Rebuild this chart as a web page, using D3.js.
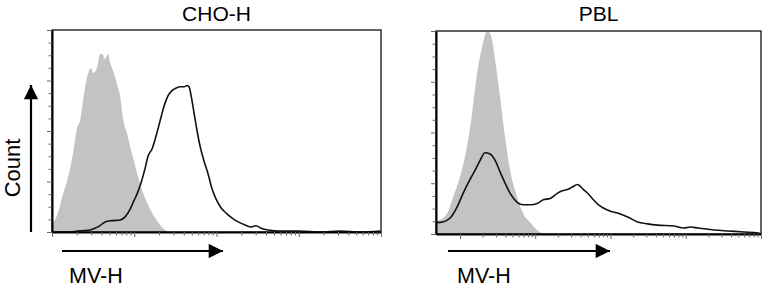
<!DOCTYPE html>
<html>
<head>
<meta charset="utf-8">
<script src="https://cdn.jsdelivr.net/npm/d3@7"></script>
<style>
  body { margin: 0; background: #fff; }
  svg { display: block; font-family: "Liberation Sans", Arial, sans-serif; }
</style>
</head>
<body>
<div id="chart"></div>
<script>
/* DATA (x = MV-H intensity, y = count) */
const choGrayX = [1.03, 1.15, 1.36, 1.52, 1.8, 2.01, 2.19, 2.52, 2.82, 2.98, 3.15, 3.53, 3.84, 4.06, 4.41, 4.8, 5.08, 5.52, 6.01, 6.35, 6.72, 7.31, 8.17, 8.89, 9.95, 10.8, 12.8, 15.6, 18.9, 22.4, 25.8];
const choGrayY = [7, 13, 30, 40, 62, 82, 88, 114, 128, 130, 126, 130, 141, 141, 137, 141, 134, 128, 120, 114, 108, 90, 78, 68, 56, 47, 31, 18, 9, 3, 0];

const choLineX = [1, 1.66, 2.19, 2.9, 3.33, 3.84, 4.41, 5.37, 6.72, 7.73, 8.89, 9.95, 10.8, 12.1, 13.5, 14.7, 16.5, 18.4, 20.6, 23.1, 25.8, 28.8, 32.3, 36.1, 40.4, 43.9, 46.4, 49.1, 53.4, 58.1, 63.1, 70.6, 79, 88.4, 98.9, 114, 131, 155, 183, 223, 264, 303, 349, 425, 594, 1040, 1820, 3190, 5580, 9780];
const choLineY = [0, 0, 1, 1.6, 3, 5, 8, 9, 9.5, 12, 18, 25, 30, 39, 50, 60, 66, 76, 88, 100, 108, 112, 114, 115, 115, 116, 115, 108, 94, 80, 68, 56, 46, 34, 26, 19, 15, 11, 8, 5.5, 4, 5, 3, 1.6, 0.8, 0.8, 0, 0.8, 0, 0.8];

const pblGrayX = [0.49, 0.67, 0.81, 1.0, 1.24, 1.45, 1.69, 1.96, 2.15, 2.29, 2.51, 2.67, 2.93, 3.41, 3.98, 4.64, 5.75, 6.92, 8.58, 10.6, 13.6];
const pblGrayY = [10, 16, 29, 45, 69, 95, 127, 147, 157, 160, 158, 153, 137, 108, 76, 50, 29, 16, 9, 3, 0];

const pblLineX = [0.48, 0.59, 0.74, 0.91, 1.1, 1.36, 1.58, 1.85, 2.15, 2.51, 2.93, 3.41, 3.98, 4.64, 5.75, 6.92, 8.58, 10.6, 12.8, 15.8, 19.6, 22.9, 26.7, 31.1, 36.3, 43.7, 50.9, 59.3, 69.2, 80.7, 100, 124, 169, 229, 311, 423, 692, 940, 1166, 1445, 2362, 3631, 5929, 9120, 10000];
const pblLineY = [9, 9.5, 12.6, 21, 32, 43, 50, 58, 64, 63, 58, 49, 40, 32, 25, 23, 23, 24, 27, 28, 32, 34, 35, 37, 39, 35, 31.5, 27, 23, 20.5, 18, 16.5, 13.4, 9.5, 8, 7, 6.3, 4.7, 5.5, 4.7, 3.2, 2.4, 1.6, 0.8, 0];

const panelTitles = ["CHO-H", "PBL"];
const xDomains = [[1, 10000], [0.48, 10000]];
const yMax = 160;
const yTickStep = 10;

/* LAYOUT */
const width = 770, height = 287;
const panels = [
  { title: panelTitles[0], x0: 52, x1: 381, top: 30, bottom: 232, xDomain: xDomains[0],
    grayX: choGrayX, grayY: choGrayY, lineX: choLineX, lineY: choLineY, arrow: [62, 223], label: 69 },
  { title: panelTitles[1], x0: 436, x1: 761, top: 31, bottom: 234, xDomain: xDomains[1],
    grayX: pblGrayX, grayY: pblGrayY, lineX: pblLineX, lineY: pblLineY, arrow: [448, 610], label: 457 }
];

const svg = d3.select("#chart").append("svg")
  .attr("width", width)
  .attr("height", height);

const defs = svg.append("defs");
defs.append("marker")
  .attr("id", "head")
  .attr("viewBox", "0 0 10 10")
  .attr("refX", 10).attr("refY", 5)
  .attr("markerWidth", 8).attr("markerHeight", 6.5)
  .attr("markerUnits", "strokeWidth")
  .attr("orient", "auto")
  .append("path")
  .attr("d", "M0,0L10,5L0,10Z")
  .attr("fill", "#000");

panels.forEach(p => {
  const x = d3.scaleLog().domain(p.xDomain).range([p.x0, p.x1]);
  const y = d3.scaleLinear().domain([0, yMax]).range([p.bottom, p.top]);

  const g = svg.append("g");

  // gray control histogram
  const grayData = p.grayX.map((v, i) => ({ x: v, y: p.grayY[i] }));
  g.append("path")
    .datum(grayData)
    .attr("fill", "#c3c3c3")
    .attr("d", d3.area()
      .x(d => x(d.x))
      .y0(y(0))
      .y1(d => y(d.y))
      .curve(d3.curveMonotoneX));

  // MV-H stained outline
  const lineData = p.lineX.map((v, i) => ({ x: v, y: p.lineY[i] }));
  g.append("path")
    .datum(lineData)
    .attr("fill", "none")
    .attr("stroke", "#111")
    .attr("stroke-width", 1.6)
    .attr("stroke-linejoin", "round")
    .attr("d", d3.line()
      .x(d => x(d.x))
      .y(d => y(d.y))
      .curve(d3.curveMonotoneX));

  // frame
  g.append("rect")
    .attr("x", p.x0).attr("y", p.top)
    .attr("width", p.x1 - p.x0).attr("height", p.bottom - p.top)
    .attr("fill", "none")
    .attr("stroke", "#111")
    .attr("stroke-width", 1.3);

  // log ticks on the x axis
  const xTicks = [];
  for (let e = -1; e <= 4; e++) {
    for (let m = 1; m <= 9; m++) {
      const v = m * Math.pow(10, e);
      if (v >= p.xDomain[0] && v <= p.xDomain[1] * 1.0001 && v >= 1) xTicks.push(v);
    }
  }
  const xAxis = g.append("g")
    .attr("transform", `translate(0,${p.bottom})`)
    .call(d3.axisBottom(x).tickValues(xTicks).tickFormat("").tickSize(3).tickSizeOuter(0));
  xAxis.select(".domain").attr("stroke", "#000").attr("stroke-width", 2);
  xAxis.selectAll(".tick line")
    .attr("stroke", "#666")
    .attr("y2", d => Math.abs(Math.log10(d) - Math.round(Math.log10(d))) < 1e-6 ? 5 : 3.5);

  // count ticks on the y axis
  const yAxis = g.append("g")
    .attr("transform", `translate(${p.x0},0)`)
    .call(d3.axisLeft(y).tickValues(d3.range(0, yMax + 1, yTickStep)).tickFormat("").tickSize(3).tickSizeOuter(0));
  yAxis.select(".domain").attr("stroke", "#000").attr("stroke-width", 2);
  yAxis.selectAll(".tick line")
    .attr("stroke", "#666")
    .attr("x2", d => d % 40 === 0 ? -5 : -3.5);

  // title
  svg.append("text")
    .attr("x", (p.x0 + p.x1) / 2)
    .attr("y", 21)
    .attr("text-anchor", "middle")
    .attr("font-size", 21)
    .attr("fill", "#000")
    .text(p.title);

  // MV-H arrow + label
  svg.append("line")
    .attr("x1", p.arrow[0]).attr("x2", p.arrow[1])
    .attr("y1", 251).attr("y2", 251)
    .attr("stroke", "#000")
    .attr("stroke-width", 2.2)
    .attr("marker-end", "url(#head)");
  svg.append("text")
    .attr("x", p.label)
    .attr("y", 283)
    .attr("font-size", 21.5)
    .attr("fill", "#000")
    .text("MV-H");
});

// Count arrow
svg.append("line")
  .attr("x1", 31).attr("x2", 31)
  .attr("y1", 232).attr("y2", 85)
  .attr("stroke", "#000")
  .attr("stroke-width", 2.2)
  .attr("marker-end", "url(#head)");

svg.append("text")
  .attr("transform", "translate(20,168) rotate(-90)")
  .attr("text-anchor", "middle")
  .attr("font-size", 22)
  .attr("fill", "#000")
  .text("Count");
</script>
</body>
</html>
